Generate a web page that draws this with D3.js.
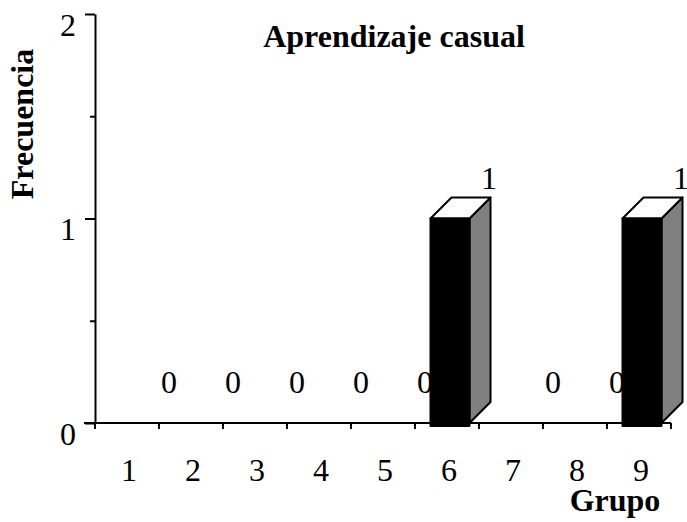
<!DOCTYPE html>
<html>
<head>
<meta charset="utf-8">
<script src="https://cdn.jsdelivr.net/npm/d3@7"></script>
<style>
  body { margin: 0; background: #fff; }
  svg { display: block; font-family: "Liberation Serif", "Times New Roman", serif; }
</style>
</head>
<body>
<svg id="chart"></svg>
<script>
const groups = ["1", "2", "3", "4", "5", "6", "7", "8", "9"];
const frequencies = [0, 0, 0, 0, 0, 1, 0, 0, 1];
const yMajorTicks = [0, 1, 2];
const yMinorTicks = [0.5, 1.5];

const width = 687;
const height = 522;
const margin = { top: 14, right: 16, bottom: 99, left: 95 };
const depth = 21;
const fontSize = 32;

const svg = d3.select("#chart")
  .attr("width", width)
  .attr("height", height);

const x = d3.scaleBand()
  .domain(groups)
  .range([margin.left, width - margin.right])
  .padding(0);

const y = d3.scaleLinear()
  .domain([0, 2])
  .range([height - margin.bottom, margin.top]);

const data = groups.map((g, i) => ({ group: g, value: frequencies[i] }));

// x axis: line with ticks at band edges
const xAxis = svg.append("g");
xAxis.append("line")
  .attr("x1", margin.left - 11).attr("x2", width - margin.right)
  .attr("y1", y(0)).attr("y2", y(0))
  .attr("stroke", "#000").attr("stroke-width", 2);
xAxis.selectAll(".xtick")
  .data(groups.map(g => x(g)).concat([x(groups[groups.length - 1]) + x.bandwidth()]))
  .enter().append("line")
  .attr("x1", d => d).attr("x2", d => d)
  .attr("y1", y(0)).attr("y2", y(0) + 6)
  .attr("stroke", "#000").attr("stroke-width", 2);
xAxis.selectAll(".xlabel")
  .data(groups)
  .enter().append("text")
  .attr("x", d => x(d) + 34)
  .attr("y", 481)
  .attr("text-anchor", "middle")
  .attr("font-size", fontSize)
  .text(d => d);

// y axis
svg.append("g")
  .attr("transform", `translate(${margin.left},0)`)
  .call(d3.axisLeft(y).tickValues(yMinorTicks).tickSize(5).tickSizeOuter(0).tickFormat(""))
  .call(g => g.select(".domain").remove())
  .call(g => g.selectAll("line").attr("stroke-width", 2));

svg.append("g")
  .attr("transform", `translate(${margin.left},0)`)
  .call(d3.axisLeft(y).tickValues(yMajorTicks).tickSize(10).tickPadding(9).tickSizeOuter(0).tickFormat(d3.format("d")))
  .call(g => g.select(".domain").attr("stroke-width", 2))
  .call(g => g.selectAll("line").attr("stroke-width", 2))
  .call(g => g.selectAll("text")
    .attr("dy", "0.66em")
    .attr("font-family", "Liberation Serif, serif")
    .attr("font-size", fontSize)
    .attr("fill", "#000"));

// 3D bars
const bars = svg.append("g");
const front = d => ({ x0: x(d.group) + 15.5, x1: x(d.group) + 54.5, top: y(d.value), bottom: y(0) });

data.filter(d => d.value > 0).forEach(d => {
  const f = front(d);
  const g = bars.append("g")
    .attr("stroke", "#000").attr("stroke-width", 2).attr("stroke-linejoin", "round");
  // side
  g.append("path")
    .attr("d", `M${f.x1},${f.bottom} L${f.x1 + depth},${f.bottom - depth} L${f.x1 + depth},${f.top - depth} L${f.x1},${f.top} Z`)
    .attr("fill", "#808080");
  // top
  g.append("path")
    .attr("d", `M${f.x0},${f.top} L${f.x0 + depth},${f.top - depth} L${f.x1 + depth},${f.top - depth} L${f.x1},${f.top} Z`)
    .attr("fill", "#fff");
  // front
  g.append("rect")
    .attr("x", f.x0).attr("y", f.top)
    .attr("width", f.x1 - f.x0).attr("height", f.bottom - f.top + 3)
    .attr("fill", "#000");
});

// value labels
svg.append("g").selectAll("text")
  .data(data)
  .enter().append("text")
  .attr("x", d => x(d.group) + 74)
  .attr("y", d => y(d.value) - 30)
  .attr("text-anchor", "middle")
  .attr("font-size", fontSize)
  .text(d => d.value);

// titles
svg.append("text")
  .attr("x", 394)
  .attr("y", 47)
  .attr("text-anchor", "middle")
  .attr("font-size", fontSize)
  .attr("font-weight", "bold")
  .text("Aprendizaje casual");

svg.append("text")
  .attr("transform", "translate(33,124) rotate(-90)")
  .attr("text-anchor", "middle")
  .attr("font-size", fontSize)
  .attr("font-weight", "bold")
  .text("Frecuencia");

svg.append("text")
  .attr("x", 615)
  .attr("y", 511)
  .attr("text-anchor", "middle")
  .attr("font-size", fontSize)
  .attr("font-weight", "bold")
  .text("Grupo");
</script>
</body>
</html>
